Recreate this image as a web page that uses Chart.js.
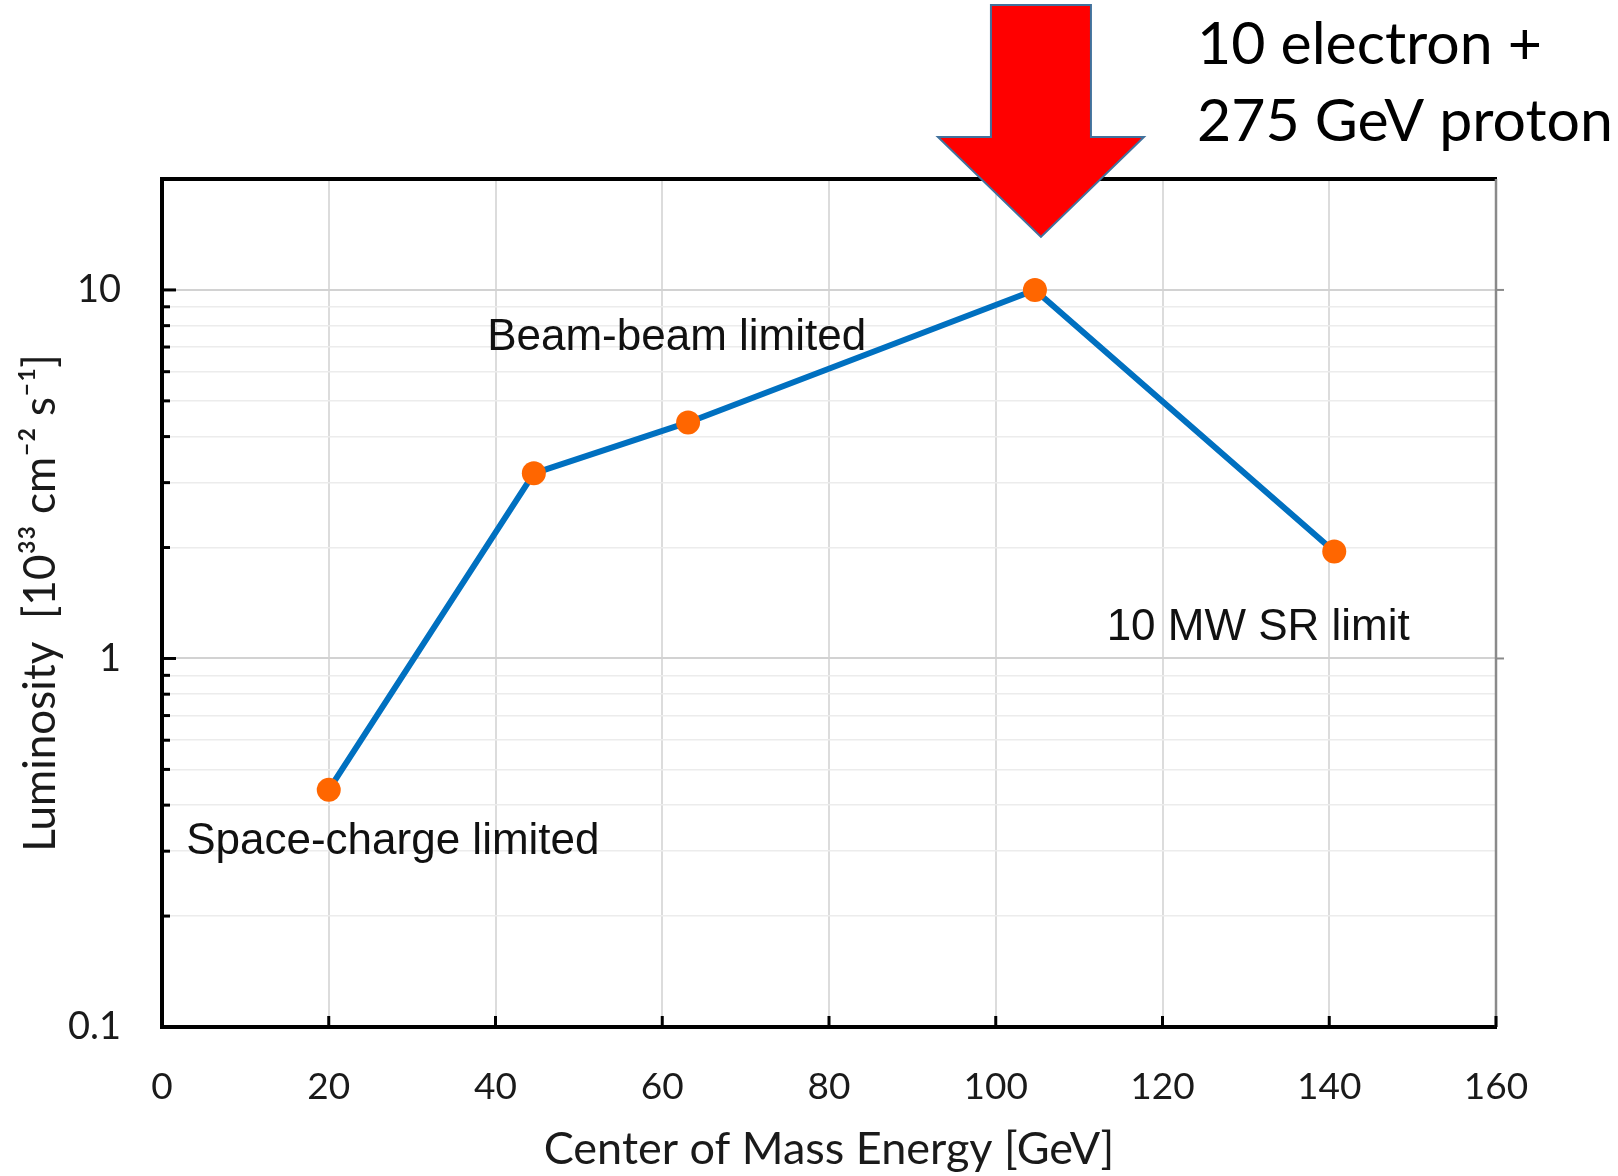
<!DOCTYPE html>
<html>
<head>
<meta charset="utf-8">
<script src="https://cdn.jsdelivr.net/npm/chart.js@4/dist/chart.umd.min.js"></script>
<style>
  html, body { margin: 0; padding: 0; background: #fff; }
  #wrap { width: 1618px; height: 1176px; position: relative; }
</style>
</head>
<body>
<div id="wrap"><canvas id="c" width="1618" height="1176"></canvas></div>
<script>
// ---- data ----
const energies = [20, 44.6, 63.1, 104.7, 140.6];          // Center of mass energy [GeV]
const luminosity = [0.44, 3.18, 4.37, 10.0, 1.95];        // 10^33 cm^-2 s^-1
const xTickValues = [0, 20, 40, 60, 80, 100, 120, 140, 160];
const yTickValues = [0.1, 0.2, 0.3, 0.4, 0.5, 0.6, 0.7, 0.8, 0.9,
                     1, 2, 3, 4, 5, 6, 7, 8, 9, 10, 20];
const yLabelValues = [0.1, 1, 10];
const yLabelTexts = ['0.1', '1', '10'];
const notes = ['Beam-beam limited', 'Space-charge limited', '10 MW SR limit'];
const headline = ['10 electron +', '275 GeV proton'];
const xTitle = 'Center of Mass Energy [GeV]';
const yTitle = 'Luminosity  [10\u00B3\u00B3 cm\u207B\u00B2 s\u207B\u00B9]';

const isMajor = v => yLabelValues.some(m => Math.abs(m - v) < 1e-9);

const extras = {
  id: 'extras',
  afterDraw(chart) {
    const ctx = chart.ctx;
    const a = chart.chartArea;
    const xs = chart.scales.x, ys = chart.scales.y;
    ctx.save();
    // top & right frame
    ctx.strokeStyle = '#000'; ctx.lineWidth = 4;
    ctx.beginPath(); ctx.moveTo(a.left - 2, a.top); ctx.lineTo(a.right + 1, a.top); ctx.stroke();
    ctx.strokeStyle = '#8a8a8a'; ctx.lineWidth = 2.5;
    ctx.beginPath(); ctx.moveTo(a.right, a.top); ctx.lineTo(a.right, a.bottom); ctx.stroke();
    // left inward ticks
    ctx.strokeStyle = '#000'; ctx.lineWidth = 3;
    yTickValues.forEach(v => {
      const y = ys.getPixelForValue(v);
      if (y < a.top + 2 || y > a.bottom - 2) return;
      const len = isMajor(v) ? 14 : 8;
      ctx.beginPath(); ctx.moveTo(a.left, y); ctx.lineTo(a.left + len, y); ctx.stroke();
    });
    // bottom inward ticks
    xTickValues.forEach(v => {
      const x = xs.getPixelForValue(v);
      ctx.beginPath(); ctx.moveTo(x, a.bottom); ctx.lineTo(x, a.bottom - 11); ctx.stroke();
    });
    // right outward ticks (gray)
    ctx.strokeStyle = '#8a8a8a'; ctx.lineWidth = 2;
    yLabelValues.forEach(v => {
      const y = ys.getPixelForValue(v);
      if (y < a.top + 2 || y > a.bottom - 2) return;
      ctx.beginPath(); ctx.moveTo(a.right, y); ctx.lineTo(a.right + 8, y); ctx.stroke();
    });
    // annotations
    ctx.fillStyle = '#111';
    ctx.font = '44px "Liberation Sans", Arial, sans-serif';
    ctx.textAlign = 'left'; ctx.textBaseline = 'alphabetic';
    ctx.fillText(notes[0], xs.getPixelForValue(39), ys.getPixelForValue(6.88));
    ctx.fillText(notes[1], xs.getPixelForValue(2.9), ys.getPixelForValue(0.294));
    ctx.fillText(notes[2], xs.getPixelForValue(113.3), ys.getPixelForValue(1.119));
    // big red arrow pointing at the peak point
    const cx = xs.getPixelForValue(energies[3]) + 6;
    const tipY = ys.getPixelForValue(luminosity[3]) - 53;
    const headY = tipY - 100, topY = 5, hw = 103, sw = 50;
    ctx.beginPath();
    ctx.moveTo(cx - sw, topY);
    ctx.lineTo(cx + sw, topY);
    ctx.lineTo(cx + sw, headY);
    ctx.lineTo(cx + hw, headY);
    ctx.lineTo(cx, tipY);
    ctx.lineTo(cx - hw, headY);
    ctx.lineTo(cx - sw, headY);
    ctx.closePath();
    ctx.fillStyle = '#FF0000'; ctx.fill();
    ctx.strokeStyle = '#41719C'; ctx.lineWidth = 2; ctx.lineJoin = 'miter'; ctx.stroke();
    // headline text
    ctx.fillStyle = '#000';
    ctx.font = '59px Lato, "Open Sans", sans-serif';
    ctx.fillText(headline[0], 1197, 64);
    ctx.fillText(headline[1], 1197, 141);
    ctx.restore();
  }
};

new Chart(document.getElementById('c'), {
  type: 'scatter',
  data: {
    datasets: [{
      data: energies.map((e, i) => ({x: e, y: luminosity[i]})),
      showLine: true,
      borderColor: '#0070C0',
      borderWidth: 6,
      borderJoinStyle: 'round',
      pointBackgroundColor: '#FF6600',
      pointBorderWidth: 0,
      pointRadius: 12,
      pointHoverRadius: 12,
      clip: false
    }]
  },
  options: {
    responsive: false,
    animation: false,
    devicePixelRatio: 1,
    layout: { padding: { top: 179, right: 122, left: 0, bottom: 0 } },
    plugins: { legend: { display: false }, tooltip: { enabled: false } },
    scales: {
      x: {
        type: 'linear', min: 0, max: 160,
        afterFit: s => { s.height = 149; },
        afterBuildTicks: s => { s.ticks = xTickValues.map(v => ({value: v})); },
        ticks: { padding: 38, color: '#1a1a1a', font: { family: 'Lato', size: 37 } },
        grid: { color: '#dcdcdc', lineWidth: 2, drawTicks: false },
        border: { display: true, color: '#000', width: 4 },
        title: { display: true, text: xTitle, color: '#1a1a1a',
                 font: { family: 'Lato', size: 45 }, padding: { top: 0, bottom: 0 } }
      },
      y: {
        type: 'logarithmic', min: 0.1, max: 20,
        afterFit: s => { s.width = 162; },
        afterBuildTicks: s => { s.ticks = yTickValues.map(v => ({value: v, major: isMajor(v)})); },
        ticks: {
          padding: 41, color: '#1a1a1a', font: { family: 'Lato', size: 38 },
          autoSkip: false,
          callback: v => { const i = yLabelValues.findIndex(m => Math.abs(m - v) < 1e-9); return i >= 0 ? yLabelTexts[i] : ''; }
        },
        grid: {
          drawTicks: false,
          color: c => isMajor(c.tick.value) ? '#d2d2d2' : '#ececec',
          lineWidth: c => isMajor(c.tick.value) ? 2 : 1.5
        },
        border: { display: true, color: '#000', width: 4 },
        title: { display: true, text: yTitle, color: '#1a1a1a',
                 font: { family: 'Lato', size: 44 }, padding: { top: 14, bottom: 0 } }
      }
    }
  },
  plugins: [extras]
});
</script>
</body>
</html>
